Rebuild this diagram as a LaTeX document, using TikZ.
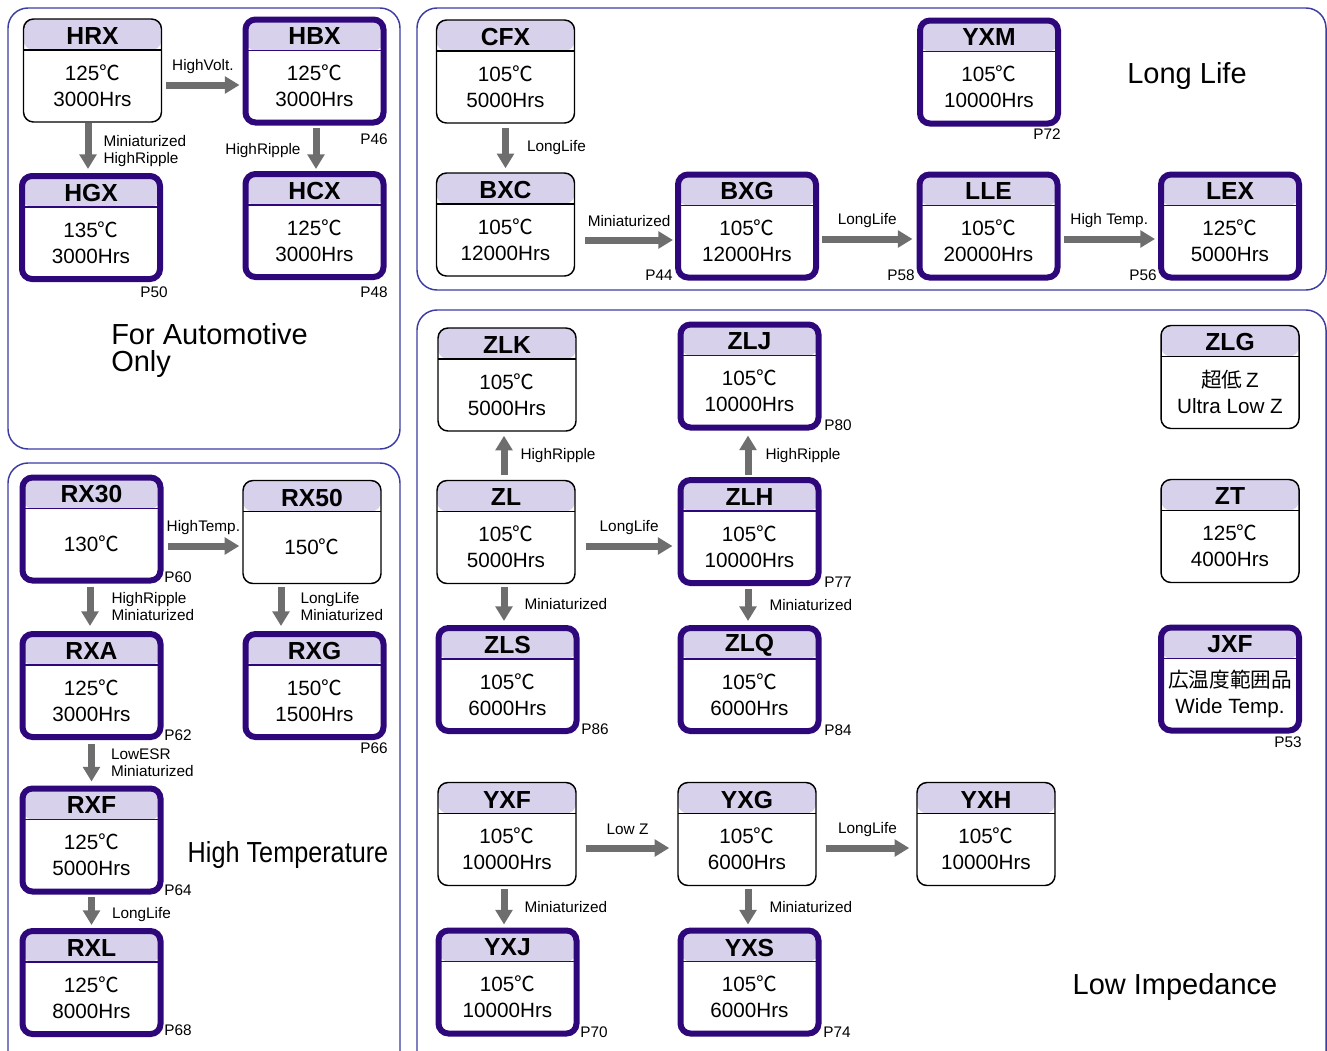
\documentclass[tikz,border=0pt]{standalone}
\usepackage{fontspec}
\setmainfont{Liberation Sans}
\newfontfamily\cjk{Noto Sans CJK JP}
\usetikzlibrary{calc,arrows.meta}
\definecolor{hdr}{RGB}{216,209,236}
\definecolor{thk}{RGB}{46,8,122}
\definecolor{frm}{RGB}{60,60,165}
\definecolor{arrc}{RGB}{110,110,110}
\newcommand\degC{{\cjk ℃}}
\newcommand\cbox[6][]{%
  \node[cb,#1] (#2) at (#3,#4) {};
  \node[ttl] (#2-t) at ($(#2)+(0,-34.5)$) {#5};
  \node[bodytxt] (#2-b) at ($(#2)+(0,15)$) {#6};}
\newcommand\harr[6]{%
  \coordinate (t1) at ($(#1.east)+(#4,#3)$);
  \coordinate (t2) at ($(t1 -| #2.west)+(-#5,0)$);
  \draw[arr] (t1) -- node[hlbl]{#6} (t2);}
\newcommand\varr[7]{%
  \coordinate (t1) at ($(#1.south)+(#3,#4)$);
  \coordinate (t2) at ($(t1 |- #2.north)+(0,-#5)$);
  \draw[arr] (t1) -- node[vlbl,#6]{#7} (t2);}
\newcommand\uarr[7]{%
  \coordinate (t1) at ($(#1.north)+(#3,-#4)$);
  \coordinate (t2) at ($(t1 |- #2.south)+(0,#5)$);
  \draw[arr] (t1) -- node[vlbl,#6]{#7} (t2);}
\begin{document}
\begin{tikzpicture}[x=0.75pt,y=-0.75pt,
  cb/.style={rectangle, rounded corners=7.5pt, draw=black, fill=white, line width=1.1pt,
    minimum width=103.5pt, minimum height=77.25pt, inner sep=0pt,
    path picture={
      \fill[hdr] (path picture bounding box.north west) rectangle ([yshift=-23.25pt]path picture bounding box.north east);
      \draw[line width=0.8pt] ([yshift=-23.25pt]path picture bounding box.north west) -- ([yshift=-23.25pt]path picture bounding box.north east);}},
  heavy/.style={draw=thk, line width=4.5pt},
  ttl/.style={font=\fontsize{18.5pt}{20pt}\bfseries\selectfont, inner sep=0pt},
  bodytxt/.style={font=\fontsize{15.5pt}{19.5pt}\selectfont, align=center, inner sep=0pt},
  lbl/.style={font=\fontsize{11.5pt}{12.75pt}\selectfont, inner sep=0pt},
  hlbl/.style={lbl, midway, yshift=14pt},
  vlbl/.style={lbl, midway, anchor=west, align=left},
  arr/.style={draw=arrc, line width=5.25pt, -{Triangle[length=11pt,width=12.5pt]}},
  frame/.style={draw=frm, line width=1.1pt, rounded corners=15pt},
  sect/.style={font=\fontsize{21.75pt}{20.25pt}\selectfont, inner sep=0pt, align=left},
  pg/.style={lbl}]
\useasboundingbox (0,0) rectangle (1327,1050);
\clip (0,0) rectangle (1327,1050);
% frames
\draw[frame] (8,8) rectangle (400,449);
\draw[frame] (8,463) rectangle (400,1080);
\draw[frame] (417,8) rectangle (1326,290);
\draw[frame] (417,310) rectangle (1326,1080);
% section titles
\node[sect, anchor=west] (auto) at (111,350) {For Automotive\\Only};
\node[sect] (ht) at (288,855) {\scalebox{0.87}[1]{High Temperature}};
\node[sect] (ll) at (1187,75.5) {Long Life};
\node[sect] (li) at (1175,986.5) {Low Impedance};
% boxes: automotive
\cbox{hrx}{92.5}{70.5}{HRX}{125\degC\\3000Hrs}
\cbox[heavy]{hbx}{314.5}{71}{HBX}{125\degC\\3000Hrs}
\cbox[heavy]{hgx}{91}{227.5}{HGX}{135\degC\\3000Hrs}
\cbox[heavy]{hcx}{314.5}{225.5}{HCX}{125\degC\\3000Hrs}
% high temperature
\cbox[heavy]{rx30}{91.5}{529}{RX30}{130\degC}
\cbox{rx50}{312}{532}{RX50}{150\degC}
\cbox[heavy]{rxa}{91.5}{685.5}{RXA}{125\degC\\3000Hrs}
\cbox[heavy]{rxg}{314.5}{685.5}{RXG}{150\degC\\1500Hrs}
\cbox[heavy]{rxf}{91.5}{840}{RXF}{125\degC\\5000Hrs}
\cbox[heavy]{rxl}{91.5}{982.5}{RXL}{125\degC\\8000Hrs}
% long life
\cbox{cfx}{505.5}{71.5}{CFX}{105\degC\\5000Hrs}
\cbox[heavy]{yxm}{989}{72}{YXM}{105\degC\\10000Hrs}
\cbox{bxc}{505.5}{224.5}{BXC}{105\degC\\12000Hrs}
\cbox[heavy]{bxg}{747}{226}{BXG}{105\degC\\12000Hrs}
\cbox[heavy]{lle}{988.5}{226}{LLE}{105\degC\\20000Hrs}
\cbox[heavy]{lex}{1230}{226}{LEX}{125\degC\\5000Hrs}
% low impedance
\cbox{zlk}{507}{379.5}{ZLK}{105\degC\\5000Hrs}
\cbox[heavy]{zlj}{749.5}{376}{ZLJ}{105\degC\\10000Hrs}
\cbox{zlg}{1230}{377}{ZLG}{{\cjk 超低}\,Z\\Ultra Low Z}
\cbox{zl}{506}{532}{ZL}{105\degC\\5000Hrs}
\cbox[heavy]{zlh}{749.5}{531.5}{ZLH}{105\degC\\10000Hrs}
\cbox{zt}{1230}{531}{ZT}{125\degC\\4000Hrs}
\cbox[heavy]{zls}{507.5}{679.5}{ZLS}{105\degC\\6000Hrs}
\cbox[heavy]{zlq}{749.5}{679.5}{ZLQ}{105\degC\\6000Hrs}
\cbox[heavy]{jxf}{1230}{679}{JXF}{{\cjk 広温度範囲品}\\Wide Temp.}
\cbox{yxf}{507}{834}{YXF}{105\degC\\10000Hrs}
\cbox{yxg}{747}{834}{YXG}{105\degC\\6000Hrs}
\cbox{yxh}{986}{834}{YXH}{105\degC\\10000Hrs}
\cbox[heavy]{yxj}{507.5}{982}{YXJ}{105\degC\\10000Hrs}
\cbox[heavy]{yxs}{749.5}{982}{YXS}{105\degC\\6000Hrs}
% horizontal arrows
\harr{hrx}{hbx}{14.5}{4}{3}{HighVolt.}
\harr{rx30}{rx50}{17}{4}{3}{HighTemp.}
\harr{bxc}{bxg}{15.5}{10}{2}{Miniaturized}
\harr{bxg}{lle}{13}{3}{4}{LongLife}
\harr{lle}{lex}{13}{3}{3}{High Temp.}
\harr{zl}{zlh}{14}{10}{5}{LongLife}
\harr{yxf}{yxg}{14}{9}{8}{Low Z}
\harr{yxg}{yxh}{14}{9}{7}{LongLife}
% vertical arrows
\varr{hrx}{hgx}{-4.5}{0}{4}{xshift=9pt,yshift=-3.75pt}{Miniaturized\\HighRipple}
\varr{hbx}{hcx}{1.5}{2}{2}{anchor=east,xshift=-9pt,yshift=-2pt}{HighRipple}
\varr{cfx}{bxc}{0}{4}{4}{xshift=13.5pt}{LongLife}
\varr{rx30}{rxa}{-1.5}{3}{5}{xshift=13.5pt}{HighRipple\\Miniaturized}
\varr{rx50}{rxg}{-31}{3}{5}{xshift=12pt}{LongLife\\Miniaturized}
\varr{rxa}{rxf}{0}{4}{4}{xshift=12pt}{LowESR\\Miniaturized}
\varr{rxf}{rxl}{0}{2}{3}{xshift=12.75pt,yshift=-2.5pt}{LongLife}
\varr{zl}{zls}{-2}{3}{4}{xshift=12.75pt}{Miniaturized}
\varr{zlh}{zlq}{-1.5}{3}{4}{xshift=13.5pt}{Miniaturized}
\varr{yxf}{yxj}{-3}{3}{3}{xshift=12.75pt}{Miniaturized}
\varr{yxg}{yxs}{1}{3}{3}{xshift=13.5pt}{Miniaturized}
\uarr{zl}{zlk}{-2}{5}{4}{xshift=9.75pt}{HighRipple}
\uarr{zlh}{zlj}{-1.5}{2}{5}{xshift=10.5pt}{HighRipple}
% page labels
\node[pg] (p46) at (374,139) {P46};
\node[pg] (p50) at (154,292) {P50};
\node[pg] (p48) at (374,292) {P48};
\node[pg] (p60) at (178,577) {P60};
\node[pg] (p62) at (178,735) {P62};
\node[pg] (p66) at (374,748) {P66};
\node[pg] (p64) at (178,890) {P64};
\node[pg] (p68) at (178,1030) {P68};
\node[pg] (p72) at (1047,134) {P72};
\node[pg] (p44) at (659,275) {P44};
\node[pg] (p58) at (901,275) {P58};
\node[pg] (p56) at (1143,275) {P56};
\node[pg] (p80) at (838,425) {P80};
\node[pg] (p77) at (838,582) {P77};
\node[pg] (p86) at (595,729) {P86};
\node[pg] (p84) at (838,730) {P84};
\node[pg] (p53) at (1288,742) {P53};
\node[pg] (p70) at (594,1032) {P70};
\node[pg] (p74) at (837,1032) {P74};
\end{tikzpicture}
\end{document}
